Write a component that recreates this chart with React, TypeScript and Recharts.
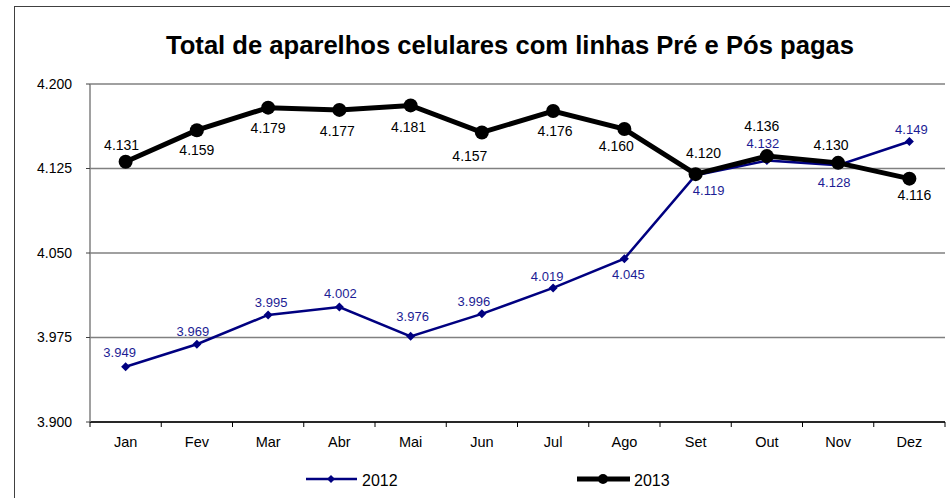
import React from "react";
import { LineChart, Line, XAxis, YAxis, CartesianGrid, LabelList } from "recharts";

const months = ["Jan", "Fev", "Mar", "Abr", "Mai", "Jun", "Jul", "Ago", "Set", "Out", "Nov", "Dez"];
const values2012 = [3.949, 3.969, 3.995, 4.002, 3.976, 3.996, 4.019, 4.045, 4.119, 4.132, 4.128, 4.149];
const values2013 = [4.131, 4.159, 4.179, 4.177, 4.181, 4.157, 4.176, 4.16, 4.12, 4.136, 4.13, 4.116];
const yTicks = [3.9, 3.975, 4.05, 4.125, 4.2];

// label nudges, like the hand-placed labels of the original sheet
const dx2012 = [-6, -4, 3, 1, 2, -8, -6, 4, 13, -4, -4, 2];
const dy2012 = [-14, -13, -13, -14, -20, -13, -12, 16, 15, -17, 17, -12];
const dx2013 = [-4, 0, 0, -2, -2, -12, 2, -8, 8, -5, -7, 5];
const dy2013 = [-17, 20, 20, 21, 22, 24, 20, 17, -21, -30, -18, 16];

const NAVY = "#000080";
const NAVY_TEXT = "#1c1c94";
const GRID = "#808080";

const rows = months.map((m, i) => ({ x: i + 0.5, month: m, y2012: values2012[i], y2013: values2013[i] }));
// integer ticks = boundary marks, half ticks = month names
const xTicks = [...months.map((_, i) => i), months.length, ...months.map((_, i) => i + 0.5)].sort((a, b) => a - b);

function MonthTick(props: any) {
  const { x, y, payload } = props;
  const v = payload.value;
  if (Number.isInteger(v)) {
    return <line x1={x} x2={x} y1={y - 15} y2={y - 10} stroke="#000" strokeWidth={1} />;
  }
  return (
    <text x={x} y={y} dy="0.71em" textAnchor="middle" fontSize={14.5} fill="#000">
      {months[Math.floor(v)]}
    </text>
  );
}

const Diamond = (props: any) => {
  const { cx, cy } = props;
  if (cx == null || cy == null) return null;
  const s = 4.5;
  return <polygon points={`${cx},${cy - s} ${cx + s},${cy} ${cx},${cy + s} ${cx - s},${cy}`} fill={NAVY} />;
};

const Dot = (props: any) => {
  const { cx, cy } = props;
  if (cx == null || cy == null) return null;
  return <circle cx={cx} cy={cy} r={7} fill="#000" />;
};

const makeLabel = (dxs: number[], dys: number[], color: string, size: number) => (p: any) => (
  <text
    x={p.x + dxs[p.index]}
    y={p.y + dys[p.index]}
    dy={size * 0.36}
    textAnchor="middle"
    fontSize={size}
    fill={color}
  >
    {Number(p.value).toFixed(3)}
  </text>
);

export default function App() {
  return (
    <div
      style={{
        position: "fixed",
        left: 0,
        top: 0,
        width: 950,
        height: 498,
        overflow: "hidden",
        background: "#fff",
        fontFamily: "'Liberation Sans', Arial, sans-serif",
      }}
    >
      {/* outer frame */}
      <div
        style={{
          position: "absolute",
          left: 14,
          top: 6,
          width: 1000,
          height: 600,
          border: "1px solid #404040",
        }}
      />
      <div
        style={{
          position: "absolute",
          left: 160,
          top: 33,
          width: 700,
          textAlign: "center",
          fontSize: 25.6,
          lineHeight: "25px",
          fontWeight: "bold",
          color: "#000",
          whiteSpace: "nowrap",
        }}
      >
        Total de aparelhos celulares com linhas Pré e Pós pagas
      </div>

      <div style={{ position: "absolute", left: 0, top: 0 }}>
        <LineChart width={950} height={498} data={rows} margin={{ top: 84, right: 5, bottom: 46, left: 0 }}>
          <CartesianGrid vertical={false} stroke={GRID} strokeWidth={1.5} />
          <XAxis
            dataKey="x"
            type="number"
            domain={[0, 12]}
            ticks={xTicks}
            interval={0}
            tick={<MonthTick />}
            tickLine={false}
            tickSize={5}
            tickMargin={10}
            height={30}
            axisLine={{ stroke: "#000", strokeWidth: 1.5 }}
          />
          <YAxis
            type="number"
            domain={[3.9, 4.2]}
            ticks={yTicks}
            interval={0}
            width={90}
            tickFormatter={(v: number) => v.toFixed(3)}
            tick={{ fontSize: 14, fill: "#000" }}
            tickSize={4}
            tickMargin={14}
            axisLine={{ stroke: GRID, strokeWidth: 1.5 }}
            tickLine={{ stroke: "#404040" }}
          />
          <Line
            dataKey="y2012"
            type="linear"
            stroke={NAVY}
            strokeWidth={2.5}
            dot={<Diamond />}
            activeDot={false}
            isAnimationActive={false}
          >
            <LabelList dataKey="y2012" content={makeLabel(dx2012, dy2012, NAVY_TEXT, 13)} />
          </Line>
          <Line
            dataKey="y2013"
            type="linear"
            stroke="#000"
            strokeWidth={5}
            dot={<Dot />}
            activeDot={false}
            isAnimationActive={false}
          >
            <LabelList dataKey="y2013" content={makeLabel(dx2013, dy2013, "#000", 14)} />
          </Line>
        </LineChart>
      </div>

      {/* legend */}
      <svg style={{ position: "absolute", left: 0, top: 466 }} width={950} height={26}>
        <line x1={306} x2={357} y1={13} y2={13} stroke={NAVY} strokeWidth={2.5} />
        <polygon points="331,9 335,13 331,17 327,13" fill={NAVY} />
        <text x={362} y={20} fontSize={16} fill="#000">2012</text>
        <line x1={577} x2={630} y1={13} y2={13} stroke="#000" strokeWidth={5} />
        <circle cx={603} cy={13} r={5} fill="#000" />
        <text x={634} y={20} fontSize={16} fill="#000">2013</text>
      </svg>
    </div>
  );
}
